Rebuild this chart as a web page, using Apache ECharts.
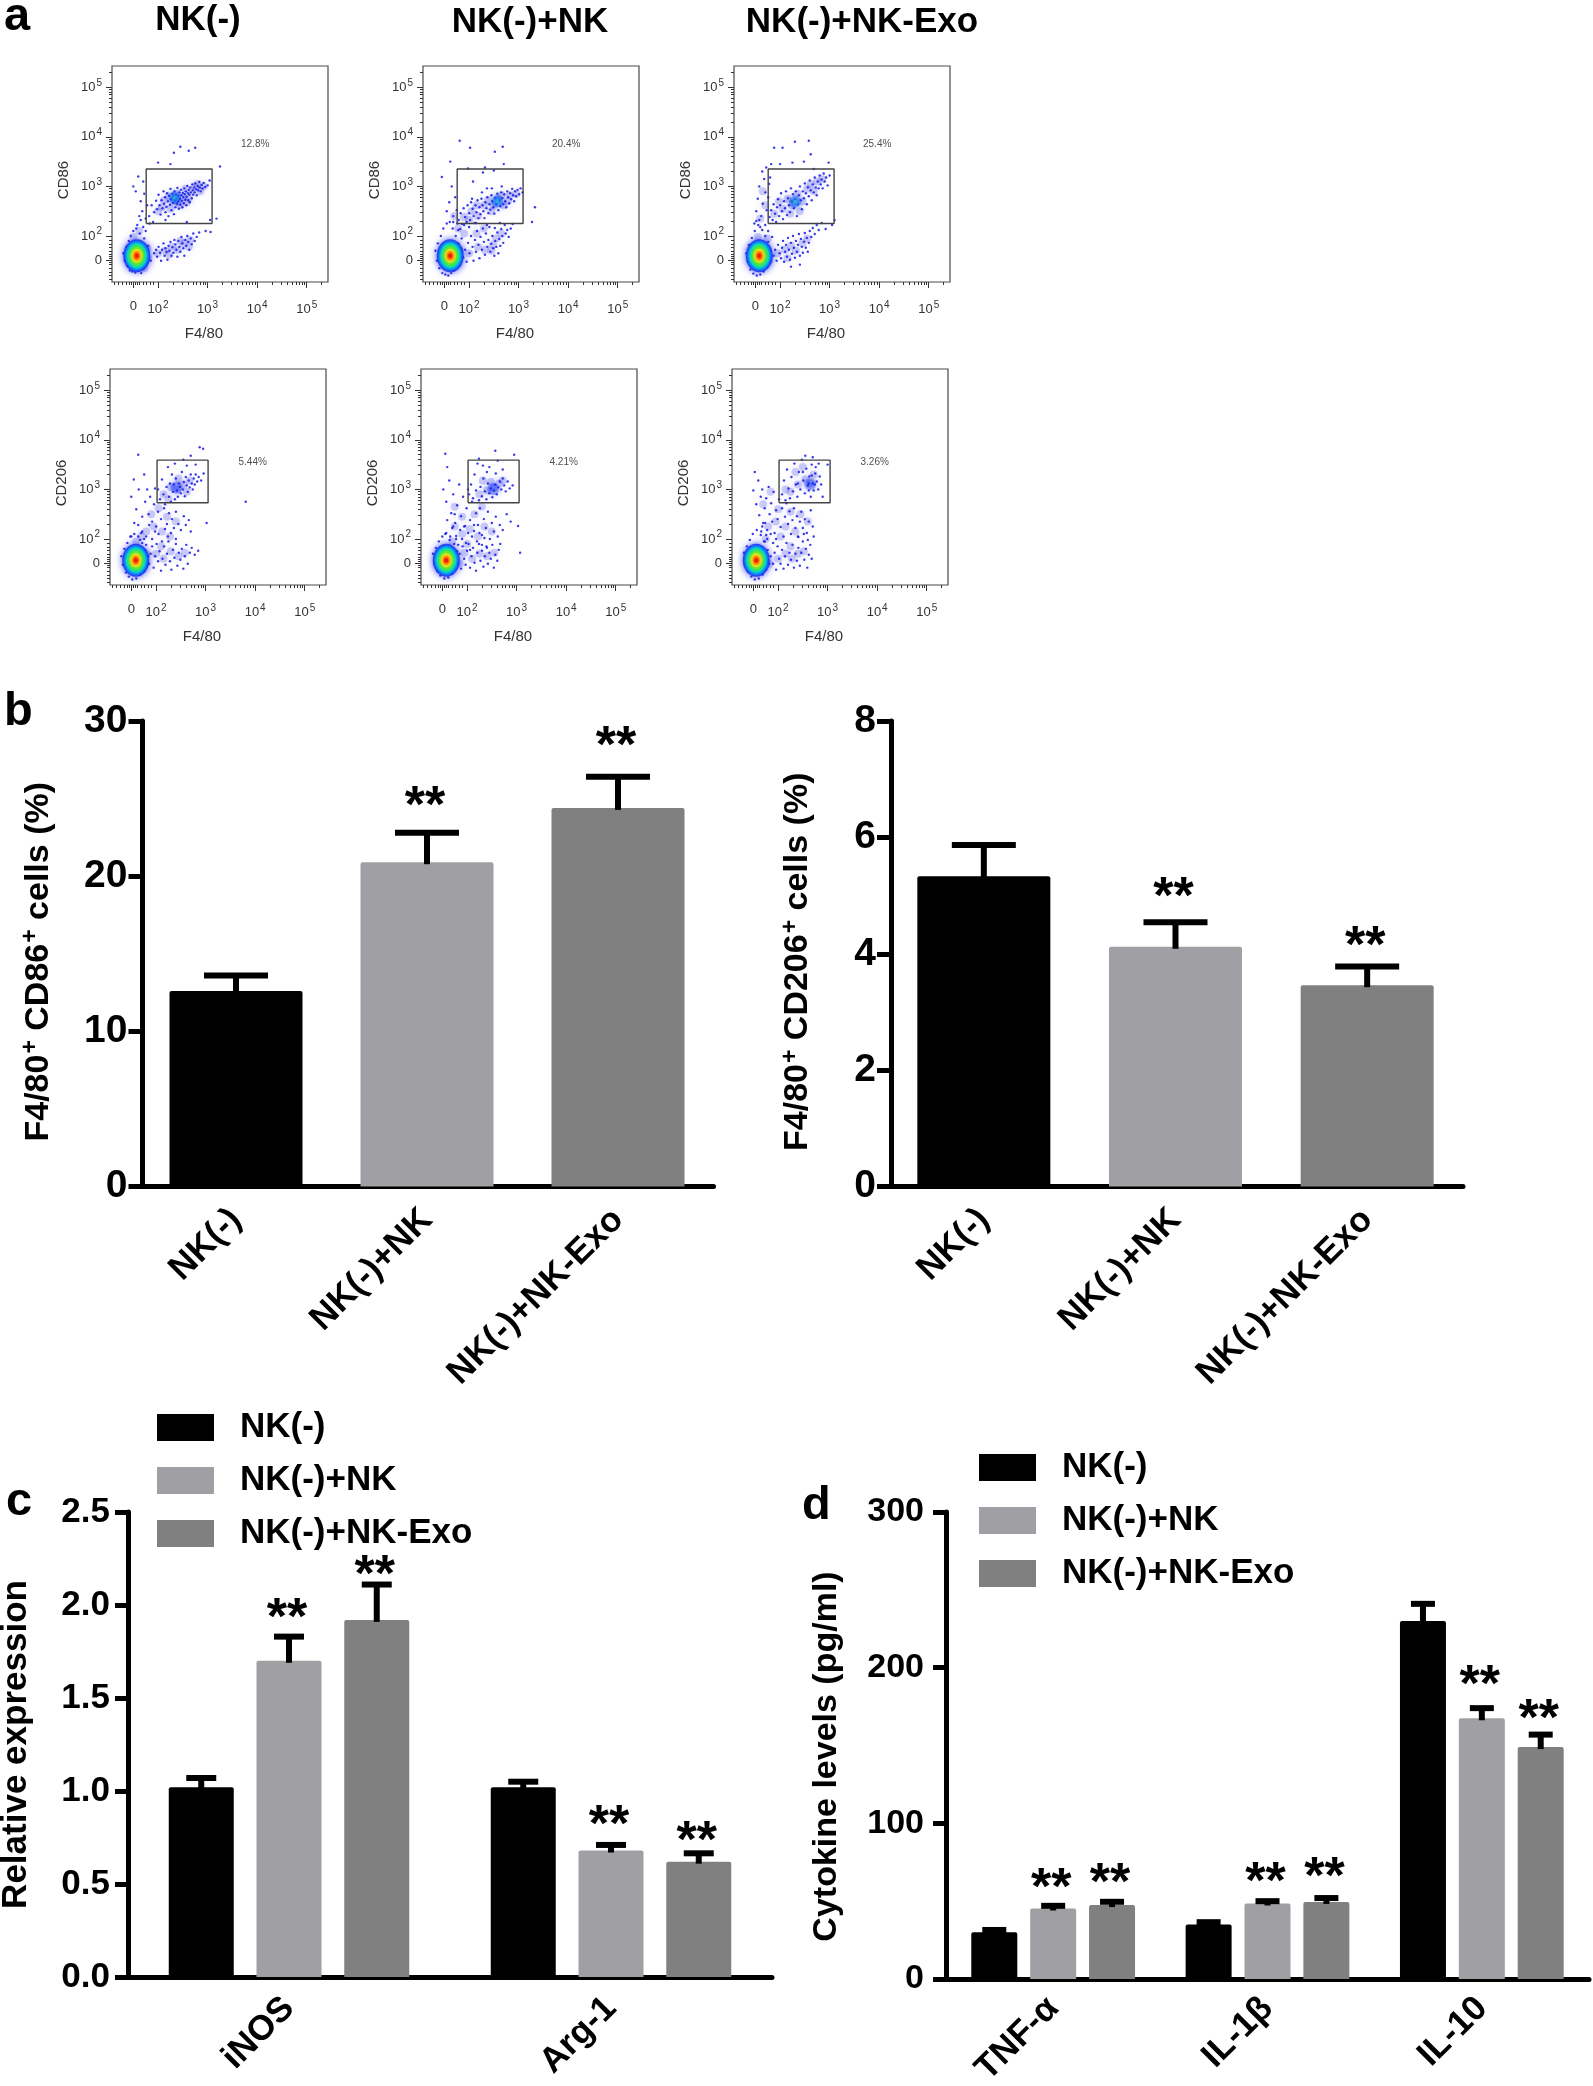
<!DOCTYPE html>
<html>
<head>
<meta charset="utf-8">
<style>html,body{margin:0;padding:0;background:#fff}#c{width:1593px;height:2086px}</style>
<script src="https://cdn.jsdelivr.net/npm/echarts@6/dist/echarts.min.js"></script>
</head>
<body>
<div id="c"></div>
<script>
// ---------- shared labels ----------
const groupNames = ['NK(-)', 'NK(-)+NK', 'NK(-)+NK-Exo'];
const groupColors = ['#000000', '#a0a0a4', '#808080'];

// ---------- panel b (star arrays: height of the ** mark on the value axis, 0 = none) ----------
const cd86Values = [12.6, 20.9, 24.4];
const cd86ErrTop = [13.6, 22.8, 26.4];
const cd86Stars = [0, 24.9, 28.8];
const cd206Values = [5.33, 4.12, 3.46];
const cd206ErrTop = [5.87, 4.54, 3.78];
const cd206Stars = [0, 5.09, 4.25];

// ---------- panel c ----------
const geneCats = ['iNOS', 'Arg-1'];
const geneValues = [[1.02, 1.02], [1.70, 0.68], [1.92, 0.62]];
const geneErrTop = [[1.07, 1.05], [1.83, 0.71], [2.11, 0.665]];
const geneStars = [[0, 0], [1.965, 0.85], [2.195, 0.763]];

// ---------- panel d ----------
const cytoCats = ['TNF-α', 'IL-1β', 'IL-10'];
const cytoValues = [[30, 35, 230], [45.3, 48.5, 167.5], [47.5, 49.5, 149]];
const cytoErrTop = [[31.5, 36.5, 241], [47, 50, 174], [49.6, 52, 157]];
const cytoStars = [[0, 0, 0], [62.5, 66.6, 193], [66, 69.3, 171]];

// ---------- panel a: flow plots (axis units: 100 = one displayed decade) ----------
const flowMajorTicks = [150, 200, 300, 400, 500];
const flowMinorTicks = [112,120,127,135,142,146,154,158,163,170,177,184,191,230,248,260,270,278,285,291,296,330,348,360,370,378,385,391,396,430,448,460,470,478,485,491,496,530];
const flowAxisRange = [107, 543];
const flowTitles = ['12.8%', '20.4%', '25.4%', '5.44%', '4.21%', '3.26%'];
const flowYNames = ['CD86', 'CD86', 'CD86', 'CD206', 'CD206', 'CD206'];
const flowGates = [[176,309,225,335],[176,309,225,335],[176,309,225,335],[202,305,273,359],[202,305,273,359],[202,305,273,359]];
const flowPctAt = [[396,386],[396,386],[396,386],[395,355],[395,355],[395,355]];
const flowCores = [[157,160],[162,160],[158,160],[159,157],[158,157],[156,157]];
const flowWarm = [[234,277],[257,270],[230,269],[241,304],[253,301],[265,311]];
const flowWarmLevels = [3, 3, 3, 1, 1, 1];

const flowHaze1 = [[200,250],[212,272],[225,255],[238,285],[245,262],[255,295],[262,275],[275,300],[285,290],[232,270],[250,278],[268,290],[222,280],[208,258],[240,268],[258,268],[280,305],[292,300],[200,165],[215,170],[228,178],[240,172],[252,185],[262,178],[265,192],[222,162],[245,190],[178,175],[150,198],[162,210],[180,155],[172,135]];
const flowHaze2 = [[190,238],[205,250],[218,240],[230,262],[245,250],[258,275],[270,262],[282,282],[295,285],[215,262],[238,272],[250,262],[265,282],[200,232],[278,270],[200,165],[218,178],[232,172],[248,182],[255,195],[265,205],[245,170],[215,205],[190,205],[230,215],[178,215],[170,240],[182,170],[178,145]];
const flowHaze3 = [[188,245],[205,255],[215,275],[225,262],[235,285],[245,270],[255,295],[268,290],[275,310],[285,315],[198,270],[240,250],[262,305],[220,245],[195,165],[210,172],[222,180],[232,170],[245,185],[255,195],[215,155],[160,235],[170,262],[165,290],[175,195],[155,198],[178,150]];
const flowHaze4 = [[215,290],[230,305],[243,300],[255,310],[268,318],[245,322],[225,280],[262,295],[180,215],[195,225],[212,215],[228,205],[190,250],[205,262],[222,245],[240,235],[170,205],[160,195],[200,170],[215,160],[230,175],[245,165],[258,172],[210,185],[180,170],[175,145]];
const flowHaze5 = [[225,290],[240,298],[253,303],[265,312],[272,318],[248,315],[232,318],[175,225],[190,210],[205,220],[222,205],[235,225],[250,215],[190,245],[215,250],[230,265],[175,265],[195,172],[210,160],[225,170],[240,165],[255,172],[185,150],[170,195],[200,190]];
const flowHaze6 = [[225,295],[240,310],[255,320],[265,312],[272,330],[250,345],[235,335],[215,300],[170,270],[185,295],[200,260],[225,255],[245,250],[180,225],[195,235],[215,225],[205,205],[235,215],[260,235],[175,200],[215,170],[228,160],[240,170],[252,175],[200,160],[225,185],[182,150]];

const flowPts1 = [[187,262],[192,248],[196,271],[198,254],[201,283],[203,262],[205,243],[207,272],[209,256],[211,290],[212,265],[214,278],[215,248],[217,259],[218,286],[220,270],[221,240],[222,281],[224,263],[225,295],[226,274],[227,252],[229,285],[230,267],[231,279],[232,244],[233,290],[234,272],[235,258],[236,283],[237,276],[238,265],[239,297],[240,281],[241,270],[242,255],[243,288],[244,275],[245,263],[246,293],[247,282],[248,271],[249,258],[250,287],[251,278],[252,266],[253,296],[254,284],[255,273],[256,290],[257,262],[258,279],[259,301],[260,286],[261,272],[262,293],[263,283],[264,268],[265,298],[266,288],[268,276],[269,304],[270,292],[271,283],[273,298],[274,288],[275,306],[277,294],[278,282],[280,301],[281,292],[283,309],[284,298],[286,290],[288,303],[290,296],[292,307],[295,299],[300,302],[304,312],
[150,300],[155,290],[160,320],[170,310],[165,270],[172,285],[168,250],[178,262],[175,235],[182,240],[190,228],[215,232],[258,228],[305,232],[318,235],[325,340],[262,372],[245,380],[225,345],[275,378],[232,368],[200,348],
[192,165],[196,172],[198,158],[201,178],[204,166],[206,150],[208,172],[211,185],[213,160],[215,175],[217,168],[219,152],[221,180],[223,170],[225,188],[227,160],[229,177],[231,166],[233,192],[235,183],[237,172],[239,158],[241,190],[243,178],[245,168],[247,198],[249,185],[251,175],[253,160],[255,192],[257,180],[259,200],[261,188],[263,172],[266,195],[268,183],[271,205],[274,190],[278,198],[283,207],[296,210],[306,208],
[130,165],[133,150],[136,178],[138,140],[141,190],[143,130],[145,200],[148,128],[150,210],[154,126],[156,215],[160,130],[163,205],[166,125],[170,135],[172,195],[175,210],[178,145],[180,180],[183,225],[185,150],[158,222],[165,232],[170,218],[162,240]];
const flowPts2 = [[179,232],[183,246],[186,224],[189,256],[192,238],[195,228],[197,262],[200,246],[202,232],[204,268],[207,255],[209,240],[211,226],[213,262],[215,248],[217,272],[219,236],[221,258],[223,244],[225,275],[227,262],[229,250],[231,236],[233,268],[235,256],[237,278],[239,246],[241,264],[243,253],[245,282],[247,270],[249,258],[251,245],[253,276],[255,264],[257,285],[259,252],[261,272],[263,260],[265,288],[267,276],[269,264],[271,284],[273,270],[275,258],[277,290],[279,278],[281,266],[283,286],[285,274],[287,295],[289,282],[291,270],[293,290],[295,280],[298,293],[301,284],[304,296],[308,288],[206,275],[226,288],[246,296],[266,300],[236,296],
[181,392],[202,378],[268,380],[252,370],[162,350],[145,319],[333,258],[327,228],[198,336],[228,328],[250,332],[270,345],[208,310],[232,338],[165,300],[172,278],[160,268],[155,250],[175,252],[168,228],[182,214],
[188,157],[192,172],[195,148],[198,186],[201,165],[204,200],[207,178],[209,150],[212,192],[214,168],[216,210],[219,182],[221,155],[223,198],[226,172],[228,215],[230,188],[232,162],[234,205],[237,178],[239,192],[241,218],[243,168],[245,184],[247,200],[249,175],[251,160],[253,190],[255,178],[257,207],[259,165],[261,194],[263,180],[265,214],[267,200],[269,186],[272,222],[274,205],[277,212],[280,198],[284,215],[288,224],[178,212],[190,222],[200,218],[214,226],[236,222],[252,216],[262,226],
[132,170],[135,150],[137,185],[140,135],[143,200],[146,125],[148,215],[152,122],[155,225],[158,120],[161,228],[164,125],[167,215],[170,130],[173,200],[176,140],[178,185],[181,155],[184,172],[168,240],[176,225],[185,195],[172,175]];
const flowPts3 = [[179,238],[182,252],[185,232],[187,264],[190,245],[192,228],[194,258],[196,274],[198,240],[200,262],[202,286],[204,250],[206,234],[208,270],[210,256],[212,290],[214,242],[216,276],[218,262],[220,248],[222,296],[224,270],[226,284],[228,256],[230,274],[232,290],[234,240],[236,264],[238,282],[240,300],[242,272],[244,254],[246,290],[248,276],[250,306],[252,286],[254,264],[256,298],[258,280],[260,312],[262,292],[264,272],[266,304],[268,288],[270,318],[272,298],[274,282],[276,310],[278,296],[280,322],[282,304],[284,314],[286,296],[288,326],[290,310],[293,318],[296,302],[300,322],
[148,225],[152,250],[155,275],[158,300],[162,240],[165,265],[168,315],[170,288],[173,252],[176,278],[178,305],[164,330],[172,338],[182,345],[180,318],[160,218],[152,230],[188,378],[205,378],[230,390],[258,392],[262,365],[200,345],[225,348],[248,350],[268,335],[298,348],[305,222],[310,232],[292,214],
[187,160],[190,172],[193,150],[196,182],[199,165],[202,155],[204,176],[206,190],[208,148],[210,168],[212,182],[214,158],[216,196],[218,172],[220,152],[222,186],[224,164],[226,200],[228,176],[230,156],[232,190],[234,168],[236,182],[238,204],[240,160],[242,194],[244,178],[246,166],[248,188],[250,206],[252,176],[254,196],[256,168],[258,186],[260,210],[263,198],[266,216],[270,204],[274,222],[278,212],[284,226],[240,142],[222,138],
[132,165],[135,148],[137,182],[140,132],[143,196],[146,124],[149,210],[153,120],[156,222],[160,122],[164,212],[167,128],[170,200],[173,138],[176,188],[179,148],[181,170],[158,232],[170,222],[176,210],[184,198]];
const flowPts4 = [[204,300],[208,280],[212,320],[215,290],[218,270],[221,305],[224,345],[226,285],[228,312],[230,275],[232,330],[234,295],[236,310],[238,280],[240,322],[242,298],[244,285],[246,312],[248,305],[250,292],[252,335],[254,300],[256,315],[258,286],[260,325],[262,308],[264,295],[266,318],[268,304],[270,330],[272,312],[274,300],[276,322],[278,310],[280,330],[283,316],[286,325],[291,318],[296,332],[262,348],[238,352],[255,360],[280,350],[270,368],[288,385],[295,382],[164,370],[381,275],[302,232],
[150,285],[155,320],[160,260],[165,300],[172,245],[176,330],[178,275],[182,300],[185,250],[188,285],[192,235],[196,270],[198,302],[200,225],[204,255],[210,240],[216,262],[222,230],[226,252],[232,240],[236,222],[240,255],[245,230],[250,218],[256,246],[260,228],[266,238],[270,215],[164,228],[172,215],[180,205],[186,228],[192,200],[198,215],[205,210],[212,195],[218,220],[224,205],[230,212],[240,200],[150,205],[156,232],[168,198],
[186,150],[189,170],[192,185],[195,142],[198,165],[201,190],[204,155],[207,175],[210,136],[213,160],[216,185],[219,148],[222,170],[225,195],[228,155],[231,138],[234,178],[237,162],[240,190],[243,146],[246,172],[249,158],[252,180],[255,140],[258,165],[261,188],[264,150],[268,172],[272,182],[278,168],[285,176],
[130,165],[133,148],[136,180],[139,132],[142,192],[145,124],[148,205],[152,118],[156,210],[160,120],[164,205],[168,128],[172,192],[176,135],[178,178],[182,148],[184,165],[170,212],[176,200],[180,188]];
const flowPts5 = [[204,290],[208,310],[212,282],[215,330],[218,298],[221,352],[224,278],[227,305],[230,286],[233,322],[236,296],[239,280],[242,312],[245,292],[248,302],[251,284],[254,298],[257,310],[260,290],[263,304],[266,316],[269,300],[272,322],[275,308],[278,296],[282,316],[286,302],[292,308],[258,332],[245,345],[262,358],[272,340],[240,335],[232,348],[257,378],[295,370],[224,362],
[156,372],[160,345],[152,300],[158,275],[164,318],[168,252],[172,290],[176,232],[180,268],[184,310],[188,246],[192,285],[196,226],[199,262],[202,300],[206,238],[210,275],[214,216],[218,252],[222,228],[226,262],[230,208],[234,240],[238,222],[242,255],[246,200],[250,232],[254,215],[258,245],[262,205],[266,228],[272,218],[303,226],[280,250],[288,235],
[152,185],[156,210],[160,238],[165,198],[170,222],[175,250],[178,206],[182,188],[186,218],[190,200],[194,225],[198,192],[202,212],[206,178],[210,205],[214,228],[220,195],[225,212],[230,188],[235,202],[240,182],
[182,150],[185,170],[188,140],[191,185],[194,160],[197,148],[200,176],[203,190],[206,142],[209,165],[212,182],[215,152],[218,136],[221,172],[224,190],[227,156],[230,176],[233,144],[236,165],[239,185],[242,150],[245,172],[248,160],[251,188],[254,142],[257,168],[261,156],[264,178],[267,190],[307,172],
[131,170],[134,150],[137,182],[140,135],[143,195],[146,126],[150,205],[154,120],[158,212],[162,122],[166,205],[170,130],[174,190],[177,140],[180,175],[172,225],[178,200]];
const flowPts6 = [[208,290],[212,318],[215,278],[218,340],[221,302],[224,282],[227,325],[230,296],[233,352],[236,310],[239,285],[242,335],[245,300],[248,360],[251,318],[254,292],[257,342],[260,308],[263,326],[266,285],[268,350],[270,312],[272,298],[275,332],[278,316],[281,300],[284,326],[287,310],[290,285],[240,312],[250,335],[262,312],[268,328],[274,310],[262,298],[276,345],[255,368],[270,365],[282,352],[300,350],
[150,298],[153,335],[156,270],[160,318],[162,248],[165,285],[168,300],[170,232],[173,262],[176,282],[178,218],[181,305],[183,250],[186,272],[188,235],[191,295],[193,212],[196,258],[199,240],[202,280],[205,224],[208,262],[211,205],[214,245],[217,272],[220,230],[223,256],[226,210],[229,238],[232,262],[235,222],[238,246],[241,204],[244,235],[247,255],[250,222],[254,240],[258,212],[262,235],[266,258],[270,225],[272,205],[166,215],[172,195],[178,200],[185,210],[190,192],[196,200],[174,232],
[190,150],[193,172],[196,138],[199,185],[202,160],[205,150],[208,178],[211,140],[214,165],[217,192],[220,148],[223,172],[226,158],[229,188],[232,142],[235,170],[238,156],[241,182],[244,146],[247,172],[250,195],[253,158],[256,180],[259,142],[262,168],[265,188],[268,160],[260,198],[240,205],[252,210],
[131,172],[134,150],[137,185],[140,134],[143,198],[146,124],[149,210],[153,118],[157,218],[161,120],[165,208],[169,128],[173,195],[176,138],[179,178],[182,150],[185,165],[168,225],[176,208]];
const flowPoints = [flowPts1, flowPts2, flowPts3, flowPts4, flowPts5, flowPts6];
const flowHaze = [flowHaze1, flowHaze2, flowHaze3, flowHaze4, flowHaze5, flowHaze6];

// ---------- layout / style ----------
const flowFrames = [[112,66],[423,66],[734,66],[110,369],[421,369],[732,369]];
const flowSize = 216;
const FONT = '"Liberation Sans", Arial, sans-serif';
const grids = [], xAxes = [], yAxes = [], series = [], legends = [];

function flowAxisBase(grid, isX) {
  return { type: 'value', gridIndex: grid, min: flowAxisRange[0], max: flowAxisRange[1], splitLine: { show: false } };
}
const flowRich = { b: { fontFamily: FONT, fontSize: 13, color: '#333' }, s: { fontFamily: FONT, fontSize: 10, color: '#333', padding: [0, 0, 9, 1] } };
function flowLabel(v) { return v === 150 ? '{b|0}' : '{b|10}{s|' + (v / 100) + '}'; }

flowFrames.forEach((f, i) => {
  const g = grids.length;
  grids.push({ left: f[0], top: f[1], width: flowSize, height: flowSize, show: true, outerBoundsMode: 'none', borderColor: '#4a4a4a', borderWidth: 1.2, backgroundColor: '#fff' });
  const major = (isX, name) => Object.assign(flowAxisBase(g), {
    position: isX ? 'bottom' : 'left',
    name, nameLocation: 'middle', nameGap: isX ? 44 : 41,
    nameTextStyle: { fontFamily: FONT, fontSize: 15, color: '#333', padding: isX ? [0, 32, 0, 0] : [0, 12, 0, 0] },
    axisLine: { show: false },
    axisTick: { show: true, length: 6, customValues: flowMajorTicks, lineStyle: { color: '#333', width: 1 } },
    axisLabel: { show: true, margin: isX ? 18 : 10, customValues: flowMajorTicks, hideOverlap: false, formatter: flowLabel, rich: flowRich }
  });
  const minor = isX => Object.assign(flowAxisBase(g), {
    position: isX ? 'bottom' : 'left',
    axisLine: { show: false }, axisLabel: { show: false },
    axisTick: { show: true, length: 3, customValues: flowMinorTicks, lineStyle: { color: '#333', width: 1 } }
  });
  const xi = xAxes.length, yi = yAxes.length;
  xAxes.push(major(true, 'F4/80'), minor(true));
  yAxes.push(major(false, flowYNames[i]), minor(false));
  const base = { xAxisIndex: xi, yAxisIndex: yi, silent: true };
  series.push(Object.assign({}, base, { type: 'scatter', name: 'density ' + i, data: flowHaze[i], symbolSize: 8, itemStyle: { color: 'rgba(10,15,225,0.24)', shadowBlur: 10, shadowColor: 'rgba(10,15,225,0.6)' } }));
  series.push(Object.assign({}, base, { type: 'scatter', name: 'events ' + i, data: flowPoints[i], symbolSize: 2.4, itemStyle: { color: '#1519e6', opacity: 0.85 } }));
  ['#0f2cf5', '#0a90f0', '#30d8c0'].slice(0, flowWarmLevels[i]).forEach((c, k) => {
    series.push(Object.assign({}, base, { type: 'scatter', name: 'warm ' + i + k, data: [flowWarm[i]], symbolSize: [12, 8, 4][k], itemStyle: { color: c, opacity: [0.35, 0.45, 0.4][k], shadowBlur: 6, shadowColor: c } }));
  });
  ['#1a22f0', '#0090ff', '#10e0b0', '#50e830', '#f0e820', '#ff8a00', '#ee1111'].forEach((c, k) => {
    series.push(Object.assign({}, base, { type: 'scatter', name: 'core ' + i + k, data: [flowCores[i]], symbolSize: [[27, 33], [23, 29], [20, 25], [15, 20], [11, 14], [7, 9], [4, 5]][k], itemStyle: { color: c, shadowBlur: k === 0 ? 7 : 3, shadowColor: c } }));
  });
  const gt = flowGates[i];
  series.push(Object.assign({}, base, { type: 'line', name: 'gate ' + i, data: [[gt[0], gt[2]], [gt[1], gt[2]], [gt[1], gt[3]], [gt[0], gt[3]], [gt[0], gt[2]]], symbol: 'none', lineStyle: { color: '#444', width: 1.4 } }));
  series.push(Object.assign({}, base, { type: 'scatter', name: 'gate % ' + i, data: [flowPctAt[i]], symbolSize: 0, label: { show: true, position: 'inside', formatter: flowTitles[i], fontFamily: FONT, fontSize: 10, color: '#222' } }));
});

// bar panels
function barPanel(p) {
  const g = grids.length;
  grids.push({ left: p.left, top: p.top, width: p.width, height: p.height, outerBoundsMode: 'none' });
  const xi = xAxes.length, yi = yAxes.length;
  xAxes.push({
    type: 'category', gridIndex: g, data: p.cats,
    axisLine: { lineStyle: { color: '#000', width: 5 } },
    axisTick: { alignWithLabel: true, length: p.xTick, lineStyle: { color: '#000', width: 5 } },
    axisLabel: { rotate: 45, interval: 0, margin: p.xMargin, fontFamily: FONT, fontWeight: 'bold', fontSize: p.xFont, color: '#000' }
  });
  yAxes.push({
    type: 'value', gridIndex: g, min: 0, max: p.max, interval: p.interval, offset: p.yOffset || 0,
    splitLine: { show: false },
    axisLine: { show: true, onZero: false, lineStyle: { color: '#000', width: 5 } },
    axisTick: { show: true, length: p.yTick, lineStyle: { color: '#000', width: 5 } },
    axisLabel: { margin: p.yMargin, fontFamily: FONT, fontWeight: 'bold', fontSize: p.yFont, color: '#000', formatter: p.fmt },
    name: p.name, nameLocation: 'middle', nameGap: p.nameGap,
    nameTextStyle: { padding: p.namePad, color: '#000', rich: {
      t: { fontFamily: FONT, fontWeight: 'bold', fontSize: p.nameFont, color: '#000' },
      s: { fontFamily: FONT, fontWeight: 'bold', fontSize: 23, color: '#000', padding: [0, 0, 15, 1] }
    } }
  });
  const errSeries = (name, dataRows, spacing, capW) => ({
    type: 'custom', name, xAxisIndex: xi, yAxisIndex: yi, silent: true, z: 5, clip: false,
    data: dataRows, encode: { x: 0, y: [1, 2] },
    renderItem(params, api) {
      const cx = api.coord([api.value(0), 0])[0] + spacing;
      const y0 = api.coord([0, api.value(1)])[1];
      const y1 = api.coord([0, api.value(2)])[1];
      const kids = [
        { type: 'rect', shape: { x: cx - 3, y: y1, width: 6, height: y0 - y1 + 2 }, style: { fill: '#000' } },
        { type: 'rect', shape: { x: cx - capW / 2, y: y1 - 3, width: capW, height: 6 }, style: { fill: '#000' } }
      ];
      if (api.value(3)) kids.push({ type: 'text', style: { text: '**', x: cx - 2, y: api.coord([0, api.value(3)])[1] + 8, align: 'center', verticalAlign: 'middle', fontFamily: FONT, fontWeight: 'bold', fontSize: 52, fill: '#000' } });
      return { type: 'group', children: kids };
    }
  });
  if (p.single) {
    series.push({ type: 'bar', name: p.seriesName, xAxisIndex: xi, yAxisIndex: yi, barWidth: p.barWidth,
      data: p.values.map((v, i) => ({ value: v, itemStyle: { color: groupColors[i], borderRadius: [2, 2, 0, 0] } })) });
    series.push(errSeries(p.seriesName + ' error', p.values.map((v, i) => [i, v, p.errs[i], p.stars[i]]), 0, p.capW));
  } else {
    const spacing = p.barWidth * (1 + p.barGap);
    groupNames.forEach((n, s) => {
      series.push({ type: 'bar', name: n, xAxisIndex: xi, yAxisIndex: yi, barWidth: p.barWidth, barGap: (p.barGap * 100) + '%',
        data: p.values[s], itemStyle: { color: groupColors[s], borderRadius: [2, 2, 0, 0] } });
    });
    groupNames.forEach((n, s) => {
      series.push(errSeries(n + ' error', p.values[s].map((v, i) => [i, v, p.errs[s][i], p.stars[s][i]]), (s - 1) * spacing, p.capW));
    });
    legends.push({ show: true, data: groupNames, left: p.legend[0], top: p.legend[1], padding: 0, orient: 'vertical', icon: 'rect', itemWidth: 57, itemHeight: 27, itemGap: 18, selectedMode: false,
      textStyle: { fontFamily: FONT, fontWeight: 'bold', fontSize: 35, color: '#000', lineHeight: 27, padding: [0, 0, 0, 21] } });
  }
}
const sup = a => '{t|F4/80}{s|+}{t| ' + a + '}{s|+}{t| cells (%)}';
barPanel({ single: true, seriesName: 'F4/80+ CD86+ cells', left: 140.5, yOffset: -2, top: 721, width: 573, height: 465.5, cats: groupNames, values: cd86Values, errs: cd86ErrTop, stars: cd86Stars,
  max: 30, interval: 10, barWidth: 133, capW: 64, xTick: 12, yTick: 14, xMargin: 28, yMargin: 15, xFont: 35, yFont: 39, nameFont: 34, name: sup('CD86'), nameGap: 85, namePad: [0, 16, 0, 0] });
barPanel({ single: true, seriesName: 'F4/80+ CD206+ cells', left: 888, yOffset: -3, top: 721, width: 575, height: 465.5, cats: groupNames, values: cd206Values, errs: cd206ErrTop, stars: cd206Stars,
  max: 8, interval: 2, barWidth: 133, capW: 64, xTick: 12, yTick: 14, xMargin: 28, yMargin: 15, xFont: 35, yFont: 39, nameFont: 34, name: sup('CD206'), nameGap: 74, namePad: [0, 16, 0, 0] });
barPanel({ left: 128, top: 1512, width: 644, height: 465, cats: geneCats, values: geneValues, errs: geneErrTop, stars: geneStars,
  max: 2.5, interval: 0.5, fmt: v => v.toFixed(1), barWidth: 65, barGap: 0.35, capW: 30, xTick: 12, yTick: 13, xMargin: 26, yMargin: 18, xFont: 35, yFont: 35, nameFont: 35, name: '{t|Relative expression}', nameGap: 94, namePad: [0, 0, 0, 0], legend: [157, 1410] });
barPanel({ left: 946, top: 1512, width: 643, height: 467, cats: cytoCats, values: cytoValues, errs: cytoErrTop, stars: cytoStars,
  max: 300, interval: 100, barWidth: 46, barGap: 0.28, capW: 24, xTick: 12, yTick: 13, xMargin: 24, yMargin: 22, xFont: 35, yFont: 34, nameFont: 34, name: '{t|Cytokine levels (pg/ml)}', nameGap: 102, namePad: [0, 22, 0, 0], legend: [979, 1450] });

// panel letters and column headers
const textEl = (t, x, y, size, align) => ({ type: 'text', x, y, silent: true, style: { text: t, align: align || 'left', verticalAlign: 'middle', fontFamily: FONT, fontWeight: 'bold', fontSize: size, fill: '#000' } });
const graphics = [
  textEl('a', 4, 17, 47), textEl('b', 4, 712, 47), textEl('c', 6, 1502, 47), textEl('d', 802, 1506, 47),
  textEl(groupNames[0], 198, 20, 35, 'center'), textEl(groupNames[1], 530, 22, 35, 'center'), textEl(groupNames[2], 862, 22, 35, 'center')
];

const chart = echarts.init(document.getElementById('c'), null, { renderer: 'canvas' });
chart.setOption({
  animation: false, backgroundColor: '#fff', textStyle: { fontFamily: FONT },
  tooltip: { show: false }, grid: grids, xAxis: xAxes, yAxis: yAxes, series, legend: legends, graphic: graphics
});
</script>
</body>
</html>
